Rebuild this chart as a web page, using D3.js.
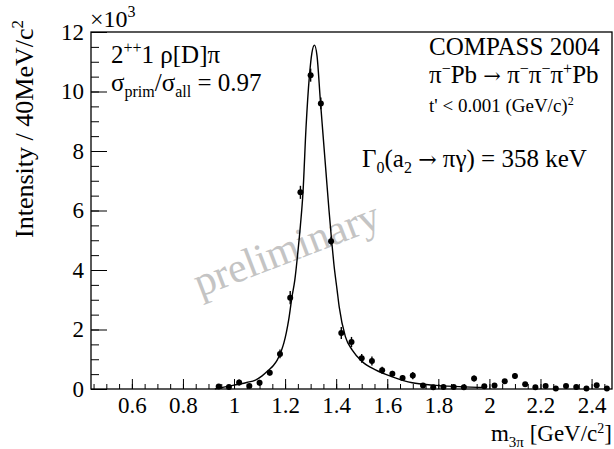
<!DOCTYPE html>
<html>
<head>
<meta charset="utf-8">
<script src="https://cdn.jsdelivr.net/npm/d3@7"></script>
<style>
body{margin:0;background:#fff;}
text{font-family:"Liberation Serif","Times New Roman",serif;fill:#000;}
.arr{font-family:"DejaVu Serif",serif;}
</style>
</head>
<body>
<script>
// bin centres (GeV/c^2), 40 MeV bins
var massBins = [0.94,0.98,1.02,1.06,1.10,1.14,1.18,1.22,1.26,1.30,1.34,1.38,1.42,1.46,1.50,1.54,1.58,1.62,1.66,1.70,
                1.74,1.78,1.82,1.86,1.90,1.94,1.98,2.02,2.06,2.10,2.14,2.18,2.22,2.26,2.30,2.34,2.38,2.42,2.46];
// intensity in units of 10^3
var counts = [0.08,0.07,0.22,0.10,0.21,0.55,1.18,3.07,6.61,10.55,9.60,4.97,1.88,1.58,1.03,0.94,0.63,0.51,0.37,0.45,
              0.12,0.06,0.07,0.07,0.06,0.35,0.09,0.12,0.26,0.44,0.16,0.06,0.10,0.02,0.10,0.07,0.02,0.13,0.02];
var errors = [0.04,0.04,0.10,0.05,0.10,0.10,0.15,0.22,0.22,0.22,0.20,0.15,0.20,0.17,0.15,0.15,0.12,0.10,0.10,0.12,
              0.05,0.04,0.04,0.04,0.04,0.10,0.05,0.05,0.08,0.10,0.05,0.04,0.04,0.03,0.04,0.04,0.03,0.05,0.03];
// fit curve
var fitMass = [0.925,0.97,1.018,1.05,1.084,1.11,1.136,1.155,1.169,1.185,1.195,1.205,1.214,1.227,1.238,1.25,1.26,1.27,
               1.282,1.295,1.305,1.315,1.325,1.338,1.347,1.36,1.372,1.382,1.391,1.404,1.412,1.436,1.463,1.502,1.554,
               1.62,1.698,1.776,1.881,1.99];
var fitValues = [0.0,0.08,0.16,0.22,0.30,0.44,0.64,0.80,0.97,1.28,1.54,1.90,2.32,3.10,3.66,4.6,5.5,6.6,
                 8.8,10.5,11.3,11.56,11.2,9.7,8.71,7.3,6.0,5.01,4.2,3.3,2.75,1.76,1.31,0.92,0.64,
                 0.41,0.21,0.13,0.08,0.05];
var xTicks = [0.6,0.8,1,1.2,1.4,1.6,1.8,2,2.2,2.4];
var xMinor = d3.range(0.45,2.48,0.05);
var yTicks = [0,2,4,6,8,10,12];
var yMinor = d3.range(0,12.01,0.5);

var W = 614, H = 449;
var mL = 91, mR = 612, mT = 32, mB = 389;

var svg = d3.select("body").append("svg").attr("width",W).attr("height",H);

var x = d3.scaleLinear().domain([0.44,2.48]).range([mL,mR]);
var y = d3.scaleLinear().domain([0,12]).range([mB,mT]);

// minor ticks
svg.append("g").attr("transform","translate(0,"+mB+")")
   .call(d3.axisBottom(x).tickValues(xMinor).tickSizeInner(-5).tickSizeOuter(0).tickFormat(""))
   .call(function(g){g.select(".domain").remove();});
svg.append("g").attr("transform","translate("+mL+",0)")
   .call(d3.axisLeft(y).tickValues(yMinor).tickSizeInner(-8).tickSizeOuter(0).tickFormat(""))
   .call(function(g){g.select(".domain").remove();});

// major ticks + labels
var xa = svg.append("g").attr("transform","translate(0,"+mB+")")
   .call(d3.axisBottom(x).tickValues(xTicks).tickSizeInner(-10).tickSizeOuter(0).tickPadding(8)
         .tickFormat(function(d){return d3.format("~g")(d);}));
xa.select(".domain").remove();
xa.selectAll("text").style("font-size","23px").style("font-family","Liberation Serif");

var ya = svg.append("g").attr("transform","translate("+mL+",0)")
   .call(d3.axisLeft(y).tickValues(yTicks).tickSizeInner(-16).tickSizeOuter(0).tickPadding(7));
ya.select(".domain").remove();
ya.selectAll("text").style("font-size","23px").style("font-family","Liberation Serif");
svg.selectAll(".tick line").attr("stroke","#000");

// frame
svg.append("rect").attr("x",mL).attr("y",mT).attr("width",mR-mL).attr("height",mB-mT)
   .attr("fill","none").attr("stroke","#000").attr("stroke-width",1.3);

// preliminary watermark
svg.append("text").attr("transform","translate(200,297) rotate(-21)")
   .style("font-size","42px").style("fill","#c4c4c4").text("preliminary");

// fit curve
var line = d3.line().x(function(d){return x(d[0]);}).y(function(d){return y(d[1]);}).curve(d3.curveMonotoneX);
svg.append("path").datum(d3.zip(fitMass,fitValues)).attr("d",line)
   .attr("fill","none").attr("stroke","#000").attr("stroke-width",1.4);

// data points
var pts = d3.range(massBins.length);
svg.selectAll(".err").data(pts).enter().append("line")
   .attr("x1",function(i){return x(massBins[i]);}).attr("x2",function(i){return x(massBins[i]);})
   .attr("y1",function(i){return y(counts[i]-errors[i]);}).attr("y2",function(i){return y(counts[i]+errors[i]);})
   .attr("stroke","#000").attr("stroke-width",1.4);
svg.selectAll(".pt").data(pts).enter().append("circle")
   .attr("cx",function(i){return x(massBins[i]);}).attr("cy",function(i){return y(counts[i]);})
   .attr("r",3).attr("fill","#000");

// axis titles
var yt = svg.append("text").attr("transform","translate(33,20) rotate(-90)")
   .attr("text-anchor","end").style("font-size","26px");
yt.append("tspan").text("Intensity / 40MeV/c");
yt.append("tspan").attr("dy",-10).style("font-size","17px").text("2");

var xt = svg.append("text").attr("x",612).attr("y",441).attr("text-anchor","end").style("font-size","23px");
xt.append("tspan").text("m");
xt.append("tspan").attr("dy",6).style("font-size","15px").text("3π");
xt.append("tspan").attr("dy",-6).text(" [GeV/c");
xt.append("tspan").attr("dy",-8).style("font-size","14px").text("2");
xt.append("tspan").attr("dy",8).text("]");

var mult = svg.append("text").attr("x",90).attr("y",27).style("font-size","24px");
mult.append("tspan").text("×10");
mult.append("tspan").attr("dy",-10).style("font-size","16px").text("3");

// left labels
var l1 = svg.append("text").attr("x",111).attr("y",63).style("font-size","25px");
l1.append("tspan").text("2");
l1.append("tspan").attr("dy",-10).style("font-size","16px").text("++");
l1.append("tspan").attr("dy",10).text("1 ρ[D]π");

var l2 = svg.append("text").attr("x",111).attr("y",91).style("font-size","25px");
l2.append("tspan").text("σ");
l2.append("tspan").attr("dy",6).style("font-size","16px").text("prim");
l2.append("tspan").attr("dy",-6).text("/σ");
l2.append("tspan").attr("dy",6).style("font-size","16px").text("all");
l2.append("tspan").attr("dy",-6).text("  = 0.97");

// right labels
svg.append("text").attr("x",429).attr("y",55).style("font-size","25px").text("COMPASS 2004");

var r2 = svg.append("text").attr("x",429).attr("y",83).style("font-size","25px");
r2.append("tspan").text("π");
r2.append("tspan").attr("dy",-9).style("font-size","16px").text("−");
r2.append("tspan").attr("dy",9).text("Pb ");
r2.append("tspan").attr("class","arr").style("font-size","21px").text("→");
r2.append("tspan").text(" π");
r2.append("tspan").attr("dy",-9).style("font-size","16px").text("−");
r2.append("tspan").attr("dy",9).text("π");
r2.append("tspan").attr("dy",-9).style("font-size","16px").text("−");
r2.append("tspan").attr("dy",9).text("π");
r2.append("tspan").attr("dy",-9).style("font-size","16px").text("+");
r2.append("tspan").attr("dy",9).text("Pb");

var r3 = svg.append("text").attr("x",429).attr("y",112).style("font-size","19px");
r3.append("tspan").text("t' < 0.001 (GeV/c)");
r3.append("tspan").attr("dy",-7).style("font-size","12px").text("2");

var r4 = svg.append("text").attr("x",362).attr("y",167).style("font-size","25px");
r4.append("tspan").text("Γ");
r4.append("tspan").attr("dy",6).style("font-size","16px").text("0");
r4.append("tspan").attr("dy",-6).text("(a");
r4.append("tspan").attr("dy",6).style("font-size","16px").text("2");
r4.append("tspan").attr("dy",-6).text(" ");
r4.append("tspan").attr("class","arr").style("font-size","22px").text("→");
r4.append("tspan").text(" πγ)  = 358 keV");
</script>
</body>
</html>
